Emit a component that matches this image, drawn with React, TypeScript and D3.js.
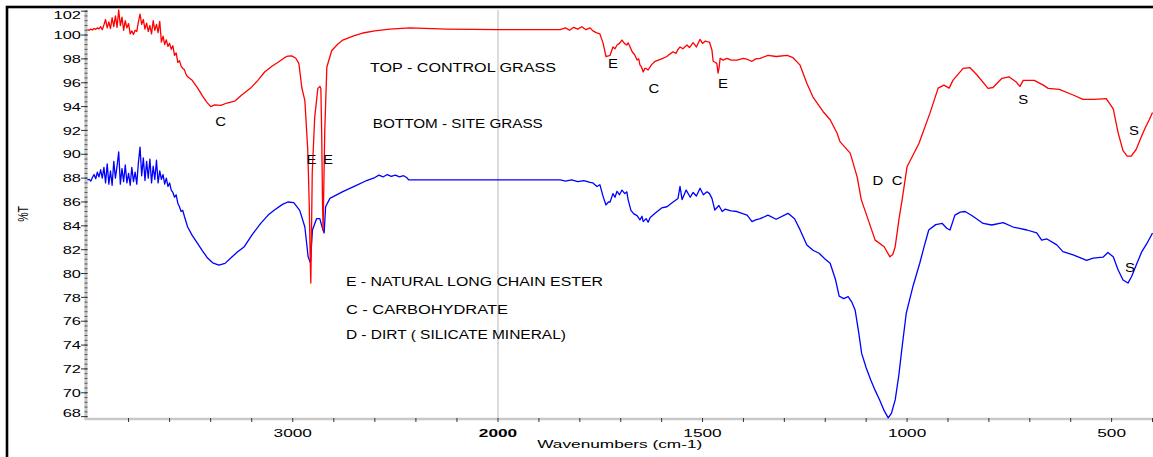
import React from "react";
import * as d3 from "d3";

// Control grass (top, red): [wavenumber cm-1, %T]
const controlGrass: [number, number][] = [
  [4000,100.45],[3992,100.40],[3984,100.50],[3976,100.42],[3968,100.55],[3960,100.48],[3952,100.60],[3944,100.52],[3936,100.70],[3928,100.45],[3920,100.85],[3912,101.30],[3904,100.60],[3896,101.10],[3888,100.55],[3880,101.45],[3872,100.70],[3864,101.60],[3856,100.65],[3848,102.10],[3840,100.80],[3832,101.50],[3824,100.40],[3816,101.20],[3808,100.60],[3800,100.95],[3792,100.10],[3784,100.35],[3776,100.05],[3768,100.40],[3760,100.30],[3752,101.10],[3744,101.75],[3736,100.90],[3728,101.30],[3720,100.50],[3712,101.00],[3704,100.30],[3696,100.80],[3688,100.10],[3680,101.20],[3672,100.40],[3664,100.90],[3656,100.20],[3648,101.15],[3640,99.40],[3632,99.90],[3624,99.20],[3616,99.60],[3608,99.05],[3600,99.30],[3592,98.80],[3584,99.10],[3576,98.30],[3568,98.50],[3560,97.70],[3552,97.85],[3544,97.40],[3536,97.20],[3528,97.10],[3520,96.70],[3512,96.50],[3490,96.20],[3463,95.55],[3440,94.90],[3420,94.40],[3400,94.00],[3380,94.15],[3351,94.10],[3320,94.30],[3283,94.45],[3250,94.95],[3205,95.55],[3170,96.20],[3137,96.90],[3100,97.40],[3073,97.70],[3040,98.10],[3024,98.24],[3005,98.25],[2985,98.05],[2970,97.60],[2956,95.60],[2941,94.50],[2927,90.40],[2920,86.00],[2914,80.50],[2912,79.20],[2909,83.00],[2905,88.50],[2893,93.10],[2878,95.50],[2868,95.70],[2863,95.50],[2859,91.80],[2855,86.00],[2852,83.60],[2848,88.00],[2844,92.00],[2834,97.30],[2810,98.70],[2780,99.25],[2756,99.58],[2700,99.95],[2659,100.17],[2600,100.35],[2527,100.50],[2429,100.60],[2249,100.50],[2000,100.45],
  [1848,100.45],[1835,100.60],[1825,100.40],[1815,100.65],[1805,100.50],[1795,100.70],[1785,100.45],[1775,100.60],[1768,100.35],[1760,100.20],[1751,100.10],[1743,99.30],[1736,98.20],[1730,98.25],[1726,98.30],[1719,99.00],[1714,98.85],[1709,99.16],[1703,99.30],[1697,99.58],[1691,99.30],[1685,99.16],[1682,99.35],[1677,99.00],[1672,98.60],[1666,98.35],[1660,97.90],[1656,98.00],[1653,97.50],[1649,97.30],[1645,96.90],[1641,97.20],[1638,97.20],[1633,97.07],[1625,97.50],[1616,97.80],[1600,98.00],[1587,98.20],[1580,98.40],[1572,98.60],[1565,98.45],[1560,98.80],[1555,99.00],[1548,98.85],[1538,99.16],[1532,98.95],[1523,99.36],[1515,99.00],[1506,99.64],[1500,99.30],[1493,99.50],[1489,99.44],[1483,99.40],[1477,98.74],[1474,97.80],[1468,97.70],[1465,97.60],[1462,96.80],[1459,97.40],[1457,98.05],[1450,97.90],[1440,98.05],[1430,97.90],[1416,97.90],[1400,98.05],[1390,97.95],[1379,97.80],[1370,98.00],[1359,98.05],[1340,98.30],[1320,98.20],[1293,98.30],[1279,98.10],[1262,97.50],[1245,95.95],[1230,94.80],[1205,93.57],[1188,92.90],[1171,91.76],[1164,91.06],[1139,90.10],[1122,88.10],[1112,86.20],[1100,85.00],[1078,82.80],[1056,82.25],[1042,81.40],[1035,81.60],[1029,82.25],[1020,84.50],[1012,86.20],[1000,88.96],[971,90.90],[944,93.45],[924,95.55],[910,95.80],[897,95.55],[888,96.20],[863,97.20],[846,97.26],[829,96.65],[802,95.53],[790,95.60],[768,96.37],[751,96.50],[734,96.08],[724,95.70],[716,96.20],[700,96.20],[689,96.20],[667,95.80],[655,95.53],[628,95.45],[594,94.97],[570,94.60],[543,94.60],[513,94.66],[496,93.80],[484,91.80],[472,90.30],[462,89.85],[452,89.85],[440,90.40],[428,91.40],[418,92.20],[408,92.90],[400,93.50]
];

// Site grass (bottom, blue): [wavenumber cm-1, %T]
const siteGrass: [number, number][] = [
  [4000,87.85],[3992,87.90],[3984,87.75],[3976,88.05],[3968,88.30],[3960,87.95],[3952,88.50],[3944,88.10],[3936,88.70],[3928,88.00],[3920,88.90],[3912,87.60],[3904,89.20],[3896,87.50],[3888,88.60],[3880,87.40],[3872,89.40],[3864,88.00],[3856,89.00],[3848,90.20],[3840,87.50],[3832,88.80],[3824,87.70],[3816,89.10],[3808,87.60],[3800,88.40],[3792,87.40],[3784,88.90],[3776,87.70],[3768,88.50],[3760,87.50],[3752,89.30],[3744,90.60],[3736,88.20],[3728,89.70],[3720,87.80],[3712,89.40],[3704,88.00],[3696,89.60],[3688,87.60],[3680,89.00],[3672,87.90],[3664,89.50],[3656,87.60],[3648,88.60],[3640,87.90],[3632,88.30],[3624,87.50],[3616,88.00],[3608,87.30],[3600,87.60],[3592,87.00],[3584,86.80],[3576,86.40],[3568,86.60],[3560,85.90],[3552,85.60],[3544,85.20],[3536,85.30],[3528,84.80],[3512,83.90],[3490,83.20],[3463,82.50],[3440,81.90],[3415,81.30],[3390,80.90],[3360,80.70],[3330,80.85],[3302,81.30],[3270,81.80],[3236,82.25],[3196,83.30],[3156,84.20],[3120,84.90],[3089,85.33],[3050,85.80],[3024,86.00],[2995,85.95],[2966,85.30],[2941,83.90],[2925,81.40],[2914,80.90],[2904,83.65],[2884,84.60],[2868,84.60],[2857,83.90],[2847,83.40],[2840,85.60],[2819,86.30],[2756,86.87],[2690,87.40],[2640,87.80],[2600,88.05],[2580,88.25],[2560,88.10],[2540,88.30],[2520,88.15],[2500,88.25],[2480,88.10],[2460,88.20],[2445,88.05],[2435,87.85],[2000,87.85],
  [1848,87.85],[1835,87.75],[1820,87.85],[1805,87.70],[1790,87.80],[1775,87.65],[1768,87.60],[1758,87.30],[1751,87.45],[1743,86.45],[1736,85.75],[1730,86.00],[1726,86.00],[1719,86.70],[1714,86.40],[1709,86.90],[1703,86.60],[1697,87.00],[1690,86.70],[1685,86.85],[1682,86.20],[1675,85.30],[1668,85.00],[1660,84.85],[1653,84.50],[1648,84.80],[1645,84.35],[1638,84.60],[1633,84.30],[1628,84.70],[1616,85.05],[1600,85.50],[1587,85.60],[1572,86.00],[1560,86.30],[1555,87.30],[1550,86.20],[1540,87.00],[1530,86.40],[1523,86.80],[1515,86.50],[1506,87.15],[1498,86.60],[1489,86.85],[1483,86.70],[1477,86.30],[1470,85.33],[1460,85.70],[1452,85.20],[1445,85.40],[1430,85.25],[1416,85.20],[1400,85.00],[1391,84.90],[1379,84.35],[1370,84.50],[1359,84.60],[1340,84.90],[1320,84.55],[1291,85.05],[1275,84.60],[1262,83.70],[1245,82.40],[1230,81.95],[1215,81.70],[1200,81.20],[1188,80.86],[1175,79.50],[1166,78.10],[1155,77.90],[1144,78.06],[1135,77.60],[1127,76.95],[1118,75.00],[1111,73.30],[1100,72.10],[1089,71.10],[1078,70.20],[1067,69.40],[1056,68.50],[1046,67.90],[1038,68.30],[1029,69.40],[1020,71.50],[1013,73.60],[1002,76.67],[985,79.00],[969,80.86],[958,82.30],[947,83.65],[930,84.10],[914,84.20],[903,83.80],[895,83.65],[883,84.90],[870,85.15],[858,85.20],[839,84.80],[814,84.20],[793,84.07],[765,84.27],[741,83.90],[707,83.65],[683,83.40],[671,82.80],[658,82.90],[634,82.40],[619,81.84],[594,81.56],[561,81.10],[545,81.30],[521,81.37],[509,81.76],[496,81.40],[484,80.30],[472,79.46],[460,79.20],[451,79.75],[438,80.86],[426,81.84],[414,82.50],[400,83.40]
];

const yTickValues = d3.range(68, 103, 2);
const yMinorTickValues = d3.range(68, 102.01, 0.4);
const xTickValues = [...d3.range(3800, 2000, -200), ...d3.range(2000, 399, -100)];
const xLabelValues = [3000, 2000, 1500, 1000, 500];

const sampleNotes: [string, number, number, number][] = [
  // text, wavenumber start, %T, width
  ["TOP - CONTROL GRASS", 2624, 97.3, 186],
  ["BOTTOM - SITE GRASS", 2610, 92.55, 170],
];
const legendNotes: [string, number, number, number][] = [
  ["E - NATURAL LONG CHAIN ESTER", 2741, 79.3, 257],
  ["C - CARBOHYDRATE", 2741, 77.0, 162],
  ["D - DIRT ( SILICATE MINERAL)", 2741, 74.85, 220],
];
const peakLabels: [string, number, number][] = [
  ["C", 3351, 92.8], ["E", 2909, 89.6], ["E", 2828, 89.6],
  ["E", 1719, 97.66], ["C", 1619, 95.56], ["E", 1450, 95.98],
  ["D", 1071, 87.85], ["C", 1024, 87.85],
  ["S", 716, 94.64], ["S", 445, 92.04], ["S", 455, 80.55],
];

const FONT = "'Liberation Sans', Arial, Helvetica, sans-serif";

export default function App() {
  const W = 1153, H = 457;
  const x = d3.scaleLinear().domain([4000, 2000, 400]).range([87.5, 498, 1152.5]);
  const y = d3.scaleLinear().domain([67.8, 102.1]).range([419, 10]);
  const line = d3.line<[number, number]>().x(d => x(d[0])).y(d => y(d[1]));
  const yTop = y(102.1), yBot = y(67.8);
  const axisX = x(4000) - 1.5;

  return (
    <svg width={W} height={H} style={{ position: "absolute", left: 0, top: 0, background: "#fff" }} fontFamily={FONT}>
      <rect x={0} y={0} width={W} height={H} fill="#fff" />
      {/* outer frame */}
      <rect x={7} y={7} width={W + 20} height={H + 20} fill="none" stroke="#000" strokeWidth={2.6} />
      {/* scale-change line at 2000 */}
      <line x1={x(2000)} x2={x(2000)} y1={yTop} y2={yBot} stroke="#b8b8b8" strokeWidth={1} />

      {/* y axis */}
      <line x1={axisX} x2={axisX} y1={yTop} y2={yBot} stroke="#c4c4c4" strokeWidth={3} />
      {yMinorTickValues.map((v, i) => (
        <line key={"ym" + i} x1={axisX - 1.5} x2={axisX + 1.5} y1={y(v)} y2={y(v)} stroke="#555" strokeWidth={1} />
      ))}
      {yTickValues.map(v => (
        <line key={"yt" + v} x1={axisX - 5} x2={axisX + 1.5} y1={y(v)} y2={y(v)} stroke="#333" strokeWidth={1} />
      ))}
      {yTickValues.map(v => {
        const ty = Math.max(15, Math.min(413, y(v)));
        return (
          <text key={"yl" + v} transform={`translate(81,${ty}) scale(1.43,1)`} textAnchor="end" dy="0.36em" fontSize={11.5} fill="#000">
            {v}
          </text>
        );
      })}
      <text transform={`translate(23,214) scale(1.45,1) rotate(-90)`} textAnchor="middle" dy="0.36em" fontSize={10.5} fill="#000">%T</text>

      {/* x axis */}
      <line x1={axisX - 1.5} x2={W} y1={yBot} y2={yBot} stroke="#c8c8c8" strokeWidth={2.5} />
      {xTickValues.map(v => (
        <line key={"xt" + v} x1={x(v)} x2={x(v)} y1={yBot - 1} y2={yBot + 3} stroke="#333" strokeWidth={1} />
      ))}
      {xLabelValues.map(v => (
        <text key={"xl" + v} transform={`translate(${x(v)},437) scale(1.5,1)`} textAnchor="middle" fontSize={11.5} fontWeight={v === 2000 ? 700 : 400} fill="#000">
          {v}
        </text>
      ))}
      <text transform={`translate(${x(1700) - 1},447.5) scale(1.5,1)`} textAnchor="middle" fontSize={11.5} fill="#000">Wavenumbers (cm-1)</text>

      {/* spectra */}
      <path d={line(siteGrass) || ""} fill="none" stroke="#0000ff" strokeWidth={1.3} strokeLinejoin="round" />
      <path d={line(controlGrass) || ""} fill="none" stroke="#ff0000" strokeWidth={1.3} strokeLinejoin="round" />

      {/* annotations */}
      {[...sampleNotes, ...legendNotes].map(([t, wn, v, w]) => (
        <text key={t} x={x(wn)} y={y(v)} dy="0.36em" fontSize={12.5} textLength={w} lengthAdjust="spacingAndGlyphs" fill="#000">
          {t}
        </text>
      ))}
      {peakLabels.map(([t, wn, v], i) => (
        <text key={"p" + i} transform={`translate(${x(wn)},${y(v)}) scale(1.15,1)`} textAnchor="middle" dy="0.36em" fontSize={13} fill="#000">
          {t}
        </text>
      ))}
    </svg>
  );
}
